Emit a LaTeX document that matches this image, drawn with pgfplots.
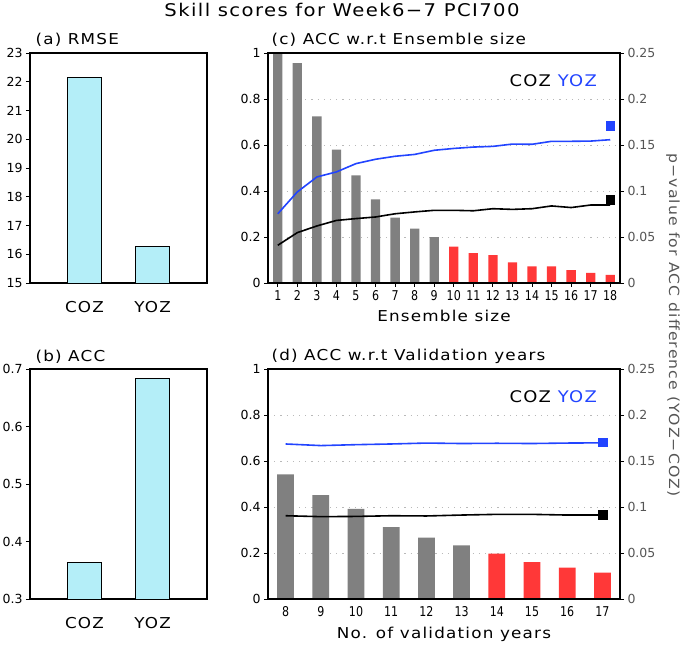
\documentclass[border=0pt]{standalone}
\usepackage{fontspec}
\setmainfont{DejaVu Sans}[FakeStretch=1.12,LetterSpace=8]
\newfontfamily\tickfont{DejaVu Sans}
\newfontfamily\narrowtick{DejaVu Sans}[FakeStretch=0.82]
\usepackage{pgfplots}
\pgfplotsset{compat=1.18}
\definecolor{barblue}{HTML}{B4EEF8}
\definecolor{pgray}{HTML}{808080}
\definecolor{pred}{HTML}{FF3838}
\definecolor{lblue}{HTML}{2244FF}
\definecolor{tgray}{HTML}{555555}
\newcommand\yt{\tickfont\fontsize{12.5}{13}\selectfont}
\newcommand\xt{\narrowtick\fontsize{13.5}{14}\selectfont}
\pgfplotsset{
  base/.style={scale only axis, anchor=south west,
    /pgf/number format/assume math mode=true,
    axis line style={line width=1.4pt},
    tick align=outside, major tick length=4pt,
    tick style={line width=0.9pt, black},
    yticklabel style={font=\yt},
    xticklabel style={font=\xt},
  },
}
\begin{document}
\begin{tikzpicture}[x=1pt,y=1pt]
\path[use as bounding box] (0,0) rectangle (685,647);
% title
\node[anchor=base] at (342,630) {\fontsize{17.5}{18}\selectfont Skill scores for Week6−7 PCI700};
% ---------------- (a)
\begin{axis}[base, at={(30pt,364pt)}, width=177pt, height=230pt,
  xmin=0.2, xmax=2.8, ymin=15, ymax=23,
  ytick={15,16,17,18,19,20,21,22,23}, ytick pos=left,
  xtick={1,2}, xticklabels={COZ,YOZ}, xtick style={draw=none},
  xticklabel style={font=\fontsize{15}{16}\selectfont, yshift=-11pt}]
\addplot[ybar, bar width=0.5, bar shift=0pt, fill=barblue, draw=black, line width=0.9pt] coordinates {(1,22.15) (2,16.26)};
\end{axis}
\node[anchor=base west] at (32,602) {\fontsize{15}{16}\selectfont (a) RMSE};
% ---------------- (b)
\begin{axis}[base, at={(30pt,48pt)}, width=177pt, height=230pt,
  xmin=0.2, xmax=2.8, ymin=0.3, ymax=0.7,
  ytick={0.3,0.4,0.5,0.6,0.7}, yticklabels={0.3,0.4,0.5,0.6,0.7}, ytick pos=left,
  xtick={1,2}, xticklabels={COZ,YOZ}, xtick style={draw=none},
  xticklabel style={font=\fontsize{15}{16}\selectfont, yshift=-11pt}]
\addplot[ybar, bar width=0.5, bar shift=0pt, fill=barblue, draw=black, line width=0.9pt] coordinates {(1,0.363) (2,0.683)};
\end{axis}
\node[anchor=base west] at (32,285) {\fontsize{15}{16}\selectfont (b) ACC};
% ---------------- (c) bars (p-values, right axis)
\begin{axis}[base, at={(268pt,364pt)}, width=352pt, height=230pt,
  xmin=0.5, xmax=18.5, ymin=0, ymax=0.25, hide x axis,
  ytick={0,0.05,0.1,0.15,0.2,0.25}, yticklabels={0,0.05,0.1,0.15,0.2,0.25},
  ytick pos=right, yticklabel pos=right,
  yticklabel style={font=\yt, text=tgray},
  ymajorgrids, grid style={gray!55, line width=0.9pt, dash pattern=on 1.2pt off 5pt}]
\addplot[ybar, bar width=0.475, bar shift=0pt, fill=pgray, draw=none] coordinates {
(1,0.25) (2,0.239) (3,0.181) (4,0.145) (5,0.117) (6,0.091) (7,0.071) (8,0.059) (9,0.0498)};
\addplot[ybar, bar width=0.475, bar shift=0pt, fill=pred, draw=none] coordinates {
(10,0.0395) (11,0.0326) (12,0.0304) (13,0.0225) (14,0.0181) (15,0.0181) (16,0.0141) (17,0.0109) (18,0.0087)};
\end{axis}
% ---------------- (c) lines (ACC, left axis)
\begin{axis}[base, at={(268pt,364pt)}, width=352pt, height=230pt,
  xmin=0.5, xmax=18.5, ymin=0, ymax=1,
  ytick={0,0.2,0.4,0.6,0.8,1}, yticklabels={0,0.2,0.4,0.6,0.8,1}, ytick pos=left,
  xtick={1,...,18}, xtick pos=bottom,
  xlabel={Ensemble size}, xlabel style={font=\fontsize{15}{16}\selectfont, yshift=-3pt}]
\addplot[lblue, line width=1.6pt] coordinates {(1,0.301)(2,0.396)(3,0.461)(4,0.483)(5,0.519)(6,0.538)(7,0.551)(8,0.559)(9,0.577)(10,0.585)(11,0.591)(12,0.594)(13,0.604)(14,0.603)(15,0.616)(16,0.616)(17,0.617)(18,0.623)};
\addplot[black, line width=1.6pt] coordinates {(1,0.164)(2,0.219)(3,0.248)(4,0.272)(5,0.280)(6,0.287)(7,0.301)(8,0.309)(9,0.316)(10,0.316)(11,0.314)(12,0.323)(13,0.320)(14,0.323)(15,0.335)(16,0.328)(17,0.339)(18,0.339)};
\addplot[only marks, mark=square*, mark size=4.3pt, lblue] coordinates {(18,0.683)};
\addplot[only marks, mark=square*, mark size=4.3pt, black] coordinates {(18,0.362)};
\end{axis}
\node[anchor=base west] at (268,602) {\fontsize{15}{16}\selectfont (c) ACC w.r.t Ensemble size};
\node[anchor=base west] at (506,560) {\fontsize{16}{17}\selectfont COZ \textcolor{lblue}{YOZ}};
% ---------------- (d) bars
\begin{axis}[base, at={(268pt,48pt)}, width=352pt, height=230pt,
  xmin=7.5, xmax=17.5, ymin=0, ymax=0.25, hide x axis,
  ytick={0,0.05,0.1,0.15,0.2,0.25}, yticklabels={0,0.05,0.1,0.15,0.2,0.25},
  ytick pos=right, yticklabel pos=right,
  yticklabel style={font=\yt, text=tgray},
  ymajorgrids, grid style={gray!55, line width=0.9pt, dash pattern=on 1.2pt off 5pt}]
\addplot[ybar, bar width=0.475, bar shift=0pt, fill=pgray, draw=none] coordinates {
(8,0.1355) (9,0.113) (10,0.098) (11,0.078) (12,0.0667) (13,0.0583)};
\addplot[ybar, bar width=0.475, bar shift=0pt, fill=pred, draw=none] coordinates {
(14,0.0493) (15,0.0402) (16,0.034) (17,0.0286)};
\end{axis}
% ---------------- (d) lines
\begin{axis}[base, at={(268pt,48pt)}, width=352pt, height=230pt,
  xmin=7.5, xmax=17.5, ymin=0, ymax=1,
  ytick={0,0.2,0.4,0.6,0.8,1}, yticklabels={0,0.2,0.4,0.6,0.8,1}, ytick pos=left,
  xtick={8,...,17}, xtick pos=bottom, xtick style={draw=none},
  xlabel={No. of validation years}, xlabel style={font=\fontsize{15}{16}\selectfont, yshift=-3pt}]
\addplot[lblue, line width=1.6pt] coordinates {(8,0.674)(9,0.667)(10,0.671)(11,0.674)(12,0.678)(13,0.676)(14,0.677)(15,0.676)(16,0.678)(17,0.679)};
\addplot[black, line width=1.6pt] coordinates {(8,0.362)(9,0.358)(10,0.359)(11,0.362)(12,0.361)(13,0.365)(14,0.368)(15,0.368)(16,0.365)(17,0.365)};
\addplot[only marks, mark=square*, mark size=4.3pt, lblue] coordinates {(17,0.681)};
\addplot[only marks, mark=square*, mark size=4.3pt, black] coordinates {(17,0.367)};
\end{axis}
\node[anchor=base west] at (268,286) {\fontsize{15}{16}\selectfont (d) ACC w.r.t Validation years};
\node[anchor=base west] at (506,244) {\fontsize{16}{17}\selectfont COZ \textcolor{lblue}{YOZ}};
% right label
\node[rotate=-90, text=tgray] at (673,322) {\fontsize{14}{15}\selectfont p−value for ACC difference (YOZ−COZ)};
\end{tikzpicture}
\end{document}
